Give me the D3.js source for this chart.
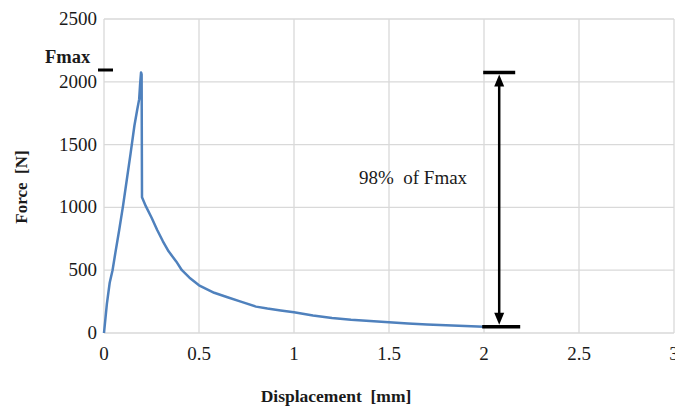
<!DOCTYPE html>
<html>
<head>
<meta charset="utf-8">
<script src="https://cdn.jsdelivr.net/npm/d3@7"></script>
<style>
  body { margin: 0; background: #fff; }
  text { font-family: "Liberation Serif", "Times New Roman", serif; fill: #1a1a1a; }
</style>
</head>
<body>
<div id="chart"></div>
<script>
var xTicks = [0, 0.5, 1, 1.5, 2, 2.5, 3],
    yTicks = [0, 500, 1000, 1500, 2000, 2500];

// displacement [mm] / force [N]
var disp = [0, 0.015, 0.03, 0.045, 0.06, 0.08, 0.1, 0.12, 0.14, 0.16, 0.175, 0.185, 0.19, 0.195, 0.198, 0.2,
            0.22, 0.25, 0.28, 0.31, 0.34, 0.38, 0.41, 0.45, 0.5, 0.58, 0.65, 0.72, 0.8, 0.86, 0.93, 1.0,
            1.1, 1.2, 1.3, 1.4, 1.5, 1.6, 1.7, 1.8, 1.9, 2.0];
var force = [0, 230, 400, 500, 640, 820, 1010, 1220, 1430, 1650, 1780, 1860, 1980, 2075, 2060, 1080,
             1010, 920, 820, 730, 650, 570, 500, 440, 380, 320, 285, 250, 210, 195, 180, 165,
             140, 120, 105, 95, 85, 75, 68, 62, 56, 50];
var fmax = 2075, fEnd = 50, arrowX = 2.08;

var width = 675, height = 411,
    margin = {left: 104, right: 1, top: 19, bottom: 78};

var svg = d3.select("#chart").append("svg")
    .attr("width", width)
    .attr("height", height);

var x = d3.scaleLinear().domain([0, 3]).range([margin.left, width - margin.right]),
    y = d3.scaleLinear().domain([0, 2500]).range([height - margin.bottom, margin.top]);

// grid
svg.append("g").selectAll("line.h").data(yTicks).enter().append("line")
    .attr("x1", x(0)).attr("x2", x(3))
    .attr("y1", function(d) { return y(d); }).attr("y2", function(d) { return y(d); })
    .attr("stroke", "#d9d9d9").attr("stroke-width", 1.3);
svg.append("g").selectAll("line.v").data(xTicks).enter().append("line")
    .attr("y1", y(0)).attr("y2", y(2500))
    .attr("x1", function(d) { return x(d); }).attr("x2", function(d) { return x(d); })
    .attr("stroke", "#d9d9d9").attr("stroke-width", 1.3);

// tick labels
svg.append("g").selectAll("text").data(yTicks).enter().append("text")
    .attr("x", x(0) - 7).attr("y", function(d) { return y(d) + 6; })
    .attr("text-anchor", "end").attr("font-size", 19)
    .text(function(d) { return d; });
svg.append("g").selectAll("text").data(xTicks).enter().append("text")
    .attr("x", function(d) { return x(d); }).attr("y", y(0) + 27)
    .attr("text-anchor", "middle").attr("font-size", 19)
    .text(function(d) { return d; });

// axis titles
svg.append("text")
    .attr("transform", "translate(27," + 187 + ") rotate(-90)")
    .attr("text-anchor", "middle").attr("font-size", 17).attr("font-weight", "bold")
    .attr("xml:space", "preserve")
    .text("Force  [N]");
svg.append("text")
    .attr("x", 336).attr("y", 402)
    .attr("text-anchor", "middle").attr("font-size", 17.5).attr("font-weight", "bold")
    .attr("xml:space", "preserve")
    .text("Displacement  [mm]");

// curve
var pts = disp.map(function(d, i) { return [d, force[i]]; });
svg.append("path")
    .datum(pts)
    .attr("fill", "none")
    .attr("stroke", "#4f81bd")
    .attr("stroke-width", 2.5)
    .attr("stroke-linejoin", "round")
    .attr("d", d3.line().x(function(d) { return x(d[0]); }).y(function(d) { return y(d[1]); }));

// Fmax marker
svg.append("text")
    .attr("x", 45).attr("y", 63).attr("font-size", 18.5).attr("font-weight", "bold")
    .text("Fmax");
svg.append("line")
    .attr("x1", 98).attr("x2", 113).attr("y1", 70).attr("y2", 70)
    .attr("stroke", "#000").attr("stroke-width", 3);

// 98% arrow
var ax = x(arrowX), yt = y(fmax), yb = y(fEnd);
svg.append("line").attr("x1", ax - 16).attr("x2", ax + 16).attr("y1", yt).attr("y2", yt)
    .attr("stroke", "#000").attr("stroke-width", 3.5);
svg.append("line").attr("x1", ax - 17).attr("x2", ax + 21).attr("y1", yb).attr("y2", yb)
    .attr("stroke", "#000").attr("stroke-width", 3.5);
svg.append("line").attr("x1", ax).attr("x2", ax).attr("y1", yt + 8).attr("y2", yb - 8)
    .attr("stroke", "#000").attr("stroke-width", 2.5);
svg.append("path")
    .attr("d", "M" + ax + "," + (yt + 2) + "l-5,12h10z")
    .attr("fill", "#000");
svg.append("path")
    .attr("d", "M" + ax + "," + (yb - 2) + "l-5,-12h10z")
    .attr("fill", "#000");
svg.append("text")
    .attr("x", 413).attr("y", 184).attr("text-anchor", "middle").attr("font-size", 19)
    .attr("xml:space", "preserve")
    .text("98%  of Fmax");
</script>
</body>
</html>
